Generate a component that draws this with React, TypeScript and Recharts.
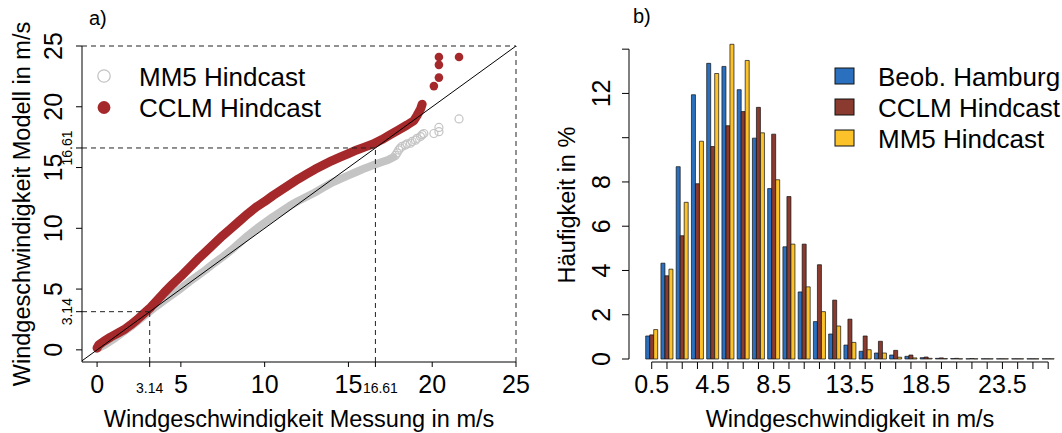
import React from "react";
import {
  ComposedChart,
  BarChart,
  Bar,
  Line,
  Scatter,
  XAxis,
  YAxis,
  ReferenceLine,
  Legend,
  Label,
} from "recharts";

const FONT = "'Liberation Sans', Arial, Helvetica, sans-serif";
const RED = "#a5282b";
const GREY = "#c4c4c4";
const BLUE = "#2b70be";
const BROWN = "#8a3a2e";
const YELLOW = "#fbc22a";

// a) Q-Q plot, Messung (x) gegen Modell (y) in m/s
const cclmBand = [
  [0.0, 0.15], [0.1, 0.4], [0.4, 0.7], [0.8, 1.05], [1.2, 1.35], [1.6, 1.65],
  [2.0, 2.05], [2.4, 2.5], [2.8, 3.0], [3.2, 3.5], [3.6, 4.1], [4.0, 4.7],
  [4.5, 5.4], [5.0, 6.05], [5.5, 6.75], [6.0, 7.45], [6.5, 8.1], [7.0, 8.75],
  [7.5, 9.4], [8.0, 10.0], [8.5, 10.6], [9.0, 11.2], [9.5, 11.75], [10.0, 12.2],
  [10.5, 12.7], [11.0, 13.15], [11.5, 13.6], [12.0, 14.05], [12.5, 14.45],
  [13.0, 14.85], [13.5, 15.2], [14.0, 15.55], [14.5, 15.85], [15.0, 16.15],
  [15.5, 16.45], [16.0, 16.7], [16.5, 16.95], [17.0, 17.3], [17.5, 17.7],
  [18.0, 18.1], [18.5, 18.5], [18.9, 18.85], [19.1, 19.3], [19.3, 19.8], [19.4, 20.2],
];
const cclmOutliers = [[20.1, 21.7], [20.4, 22.4], [20.4, 23.45], [20.4, 24.1], [21.6, 24.1]];

const mm5Band = [
  [0.0, 0.1], [0.5, 0.45], [1.0, 0.9], [1.5, 1.4], [2.0, 1.9], [2.5, 2.45],
  [3.0, 3.0], [3.5, 3.55], [4.0, 4.05], [4.5, 4.55], [5.0, 5.05], [5.5, 5.6],
  [6.0, 6.1], [6.5, 6.6], [7.0, 7.15], [7.5, 7.65], [8.0, 8.2], [8.5, 8.8],
  [9.0, 9.4], [9.5, 9.95], [10.0, 10.45], [10.5, 10.95], [11.0, 11.4], [11.5, 11.85],
  [12.0, 12.25], [12.5, 12.6], [13.0, 12.95], [13.5, 13.35], [14.0, 13.75],
  [14.5, 14.05], [15.0, 14.35], [15.5, 14.65], [16.0, 14.95], [16.5, 15.2],
  [17.0, 15.45], [17.4, 15.65], [17.7, 15.85],
];
const mm5Tail = [
  [17.8, 16.0], [17.9, 16.2], [18.0, 16.45], [18.1, 16.6], [18.2, 16.75], [18.4, 16.85],
  [18.5, 16.95], [18.7, 17.0], [18.8, 17.15], [19.0, 17.25], [19.1, 17.4], [19.3, 17.55],
  [19.4, 17.7], [19.5, 17.8], [20.1, 17.8], [20.4, 17.95], [20.4, 18.3], [21.6, 19.0],
];

const markers = [3.14, 16.61];
const qqTicks = [0, 3.14, 5, 10, 15, 16.61, 20, 25];

// b) Häufigkeit in %
const bins = [
  "0.5", "1.5", "2.5", "3.5", "4.5", "5.5", "6.5", "7.5", "8.5", "9.5",
  "10.5", "11.5", "12.5", "13.5", "14.5", "15.5", "16.5", "17.5", "18.5", "19.5",
  "20.5", "21.5", "22.5", "23.5", "24.5", "25.5", "26.5",
];
const binLabels = ["0.5", "4.5", "8.5", "13.5", "18.5", "23.5"];
const obsHamburg = [
  1.04, 4.33, 8.69, 11.94, 13.36, 13.22, 12.17, 9.98, 7.7, 5.07, 3.03, 1.69, 1.13, 0.63,
  0.35, 0.27, 0.18, 0.12, 0.06, 0.03, 0.02, 0.01, 0.01, 0.01, 0.01, 0.01, 0.01,
];
const cclmHist = [
  1.09, 3.76, 5.57, 7.92, 9.6, 10.54, 11.18, 11.37, 10.16, 7.34, 5.19, 4.26, 2.66, 1.8,
  1.04, 0.8, 0.39, 0.18, 0.09, 0.05, 0.03, 0.02, 0.01, 0.01, 0.01, 0.01, 0.01,
];
const mm5Hist = [
  1.33, 4.06, 7.08, 9.84, 12.9, 14.22, 13.49, 10.22, 8.1, 5.19, 3.26, 2.14, 1.49, 0.75,
  0.42, 0.27, 0.08, 0.05, 0.03, 0.02, 0.01, 0.01, 0.01, 0.01, 0.01, 0.01, 0.01,
];
const histTicks = [0, 2, 4, 6, 8, 10, 12, 14];
const histTickLabels = [0, 2, 4, 6, 8, 12];

const toPts = (arr: number[][]) => arr.map(([x, y]) => ({ x, y }));
const histData = bins.map((bin, i) => ({
  bin,
  obs: obsHamburg[i],
  cclm: cclmHist[i],
  mm5: mm5Hist[i],
}));

// layout of panel b
const B_W = 522;
const B_TOP = 38.1;
const B_BOTTOM = 359;
const B_YMAX = 14.5;
const B_RIGHT = 6.2;
const B_YAXIS_W = 89;
const B_PAD = 15.1;
const B_BAND = (B_W - B_RIGHT - B_YAXIS_W - B_PAD) / bins.length;
const B_STEP = ((B_BOTTOM - B_TOP) / B_YMAX) * 2;

const txt = { fontFamily: FONT, fill: "#000" };

function QqXTick(props: any) {
  const { x, y, payload } = props;
  const small = markers.includes(payload.value);
  // the 16.61 label sits right next to "15", nudge it a bit
  const lx = small && payload.value > 10 ? x + 5 : x;
  return (
    <g>
      <line x1={x} x2={x} y1={y} y2={y + 5} stroke="#000" />
      <text x={lx} y={y + 31} textAnchor="middle" fontSize={small ? 14 : 25} {...txt}>
        {payload.value}
      </text>
    </g>
  );
}

function QqYTick(props: any) {
  const { x, y, payload } = props;
  const small = markers.includes(payload.value);
  const bx = small ? x - 10 : x - 20;
  return (
    <g>
      <line x1={x - 6} x2={x} y1={y} y2={y} stroke="#000" />
      <text
        transform={`translate(${bx},${y}) rotate(-90)`}
        textAnchor="middle"
        fontSize={small ? 14 : 25}
        {...txt}
      >
        {payload.value}
      </text>
    </g>
  );
}

function HistXTick(props: any) {
  const { x, y, payload, index } = props;
  const ay = y + 3;
  return (
    <g>
      {index < bins.length - 1 && (
        <line x1={x} x2={x + B_BAND} y1={ay} y2={ay} stroke="#000" />
      )}
      <line x1={x} x2={x} y1={ay} y2={ay + 7} stroke="#000" />
      {binLabels.includes(payload.value) && (
        <text x={x} y={y + 34} textAnchor="middle" fontSize={25} {...txt}>
          {payload.value}
        </text>
      )}
    </g>
  );
}

function HistYTick(props: any) {
  const { x, y, payload, index } = props;
  return (
    <g>
      {index < histTicks.length - 1 && (
        <line x1={x} x2={x} y1={y} y2={y - B_STEP} stroke="#000" />
      )}
      <line x1={x - 7} x2={x} y1={y} y2={y} stroke="#000" />
      {histTickLabels.includes(payload.value) && (
        <text
          transform={`translate(${x - 19},${y}) rotate(-90)`}
          textAnchor="middle"
          fontSize={25}
          {...txt}
        >
          {payload.value}
        </text>
      )}
    </g>
  );
}

const OpenDot = (p: any) => (
  <circle cx={p.cx} cy={p.cy} r={4} fill="none" stroke={GREY} strokeWidth={1.2} />
);
const RedDot = (p: any) => <circle cx={p.cx} cy={p.cy} r={4.3} fill={RED} />;

const dashed = { stroke: "#222", strokeDasharray: "5 4", strokeWidth: 1 };

function LegendA() {
  return (
    <svg width={540} height={140} style={{ display: "block" }}>
      <circle cx={104} cy={76} r={6.2} fill="none" stroke={GREY} strokeWidth={1.3} />
      <text x={139} y={86} fontSize={26} {...txt}>MM5 Hindcast</text>
      <circle cx={104} cy={107.5} r={6.4} fill={RED} />
      <text x={139} y={117} fontSize={26} {...txt}>CCLM Hindcast</text>
    </svg>
  );
}

function LegendB() {
  const rows = [
    { name: "Beob. Hamburg", color: BLUE, y: 68 },
    { name: "CCLM Hindcast", color: BROWN, y: 99 },
    { name: "MM5 Hindcast", color: YELLOW, y: 130 },
  ];
  return (
    <svg width={B_W} height={170} style={{ display: "block" }}>
      {rows.map((r) => (
        <g key={r.name}>
          <rect x={295} y={r.y} width={19} height={16} fill={r.color} stroke="#111" strokeWidth={1} />
          <text x={338} y={r.y + 18} fontSize={26} {...txt}>{r.name}</text>
        </g>
      ))}
    </svg>
  );
}

export default function App() {
  return (
    <div
      style={{
        position: "absolute",
        left: 0,
        top: 0,
        width: 1062,
        height: 433,
        background: "#fff",
        fontFamily: FONT,
        overflow: "hidden",
      }}
    >
      <div style={{ position: "absolute", left: 0, top: 0 }}>
        <ComposedChart width={540} height={433} margin={{ top: 46, right: 24, bottom: 0, left: 0 }}>
          <XAxis
            type="number"
            dataKey="x"
            domain={[-0.9, 25]}
            allowDataOverflow
            ticks={qqTicks}
            interval={0}
            height={71}
            tickSize={0}
            tickMargin={0}
            tickLine={false}
            axisLine={{ stroke: "#000" }}
            tick={<QqXTick />}
          >
            <Label
              content={() => (
                <text x={299} y={427} textAnchor="middle" fontSize={23.5} {...txt}>
                  Windgeschwindigkeit Messung in m/s
                </text>
              )}
            />
          </XAxis>
          <YAxis
            type="number"
            dataKey="y"
            domain={[-1, 25]}
            allowDataOverflow
            ticks={qqTicks}
            interval={0}
            width={82}
            tickSize={0}
            tickMargin={0}
            tickLine={false}
            axisLine={{ stroke: "#000" }}
            tick={<QqYTick />}
          >
            <Label
              content={() => (
                <g>
                  <text
                    transform="translate(29.5,204) rotate(-90)"
                    textAnchor="middle"
                    fontSize={23.5}
                    {...txt}
                  >
                    Windgeschwindigkeit Modell in m/s
                  </text>
                  <text x={89} y={25} fontSize={20} {...txt}>a)</text>
                </g>
              )}
            />
          </YAxis>
          <Line
            data={toPts(mm5Band)}
            dataKey="y"
            stroke={GREY}
            strokeWidth={8}
            strokeLinecap="round"
            strokeLinejoin="round"
            dot={false}
            activeDot={false}
            isAnimationActive={false}
          />
          <Scatter data={toPts(mm5Tail)} shape={OpenDot} isAnimationActive={false} />
          <Line
            data={toPts(cclmBand)}
            dataKey="y"
            stroke={RED}
            strokeWidth={9}
            strokeLinecap="round"
            strokeLinejoin="round"
            dot={false}
            activeDot={false}
            isAnimationActive={false}
          />
          <Scatter data={toPts(cclmOutliers)} shape={RedDot} isAnimationActive={false} />
          <ReferenceLine
            segment={[{ x: -0.9, y: -0.9 }, { x: 25, y: 25 }]}
            stroke="#000"
            strokeWidth={1}
          />
          <ReferenceLine y={25} {...dashed} />
          <ReferenceLine x={25} {...dashed} />
          {markers.map((m) => (
            <ReferenceLine key={`h${m}`} segment={[{ x: -0.9, y: m }, { x: m, y: m }]} {...dashed} />
          ))}
          {markers.map((m) => (
            <ReferenceLine key={`v${m}`} segment={[{ x: m, y: -1 }, { x: m, y: m }]} {...dashed} />
          ))}
          <Legend
            layout="vertical"
            align="center"
            verticalAlign="middle"
            wrapperStyle={{ left: 0, top: 0, width: 540 }}
            content={() => <LegendA />}
          />
        </ComposedChart>
      </div>

      <div style={{ position: "absolute", left: 540, top: 0 }}>
        <BarChart
          width={B_W}
          height={433}
          data={histData}
          margin={{ top: B_TOP, right: B_RIGHT, bottom: 0, left: 0 }}
          barCategoryGap={1.6}
          barGap={0}
        >
          <XAxis
            dataKey="bin"
            type="category"
            padding={{ left: B_PAD, right: 0 }}
            interval={0}
            height={433 - B_BOTTOM}
            tickSize={0}
            tickMargin={0}
            tickLine={false}
            axisLine={false}
            tick={<HistXTick />}
          >
            <Label
              content={() => (
                <text x={310} y={427} textAnchor="middle" fontSize={23.5} {...txt}>
                  Windgeschwindigkeit in m/s
                </text>
              )}
            />
          </XAxis>
          <YAxis
            type="number"
            domain={[0, B_YMAX]}
            ticks={histTicks}
            interval={0}
            width={B_YAXIS_W}
            tickSize={0}
            tickMargin={0}
            tickLine={false}
            axisLine={false}
            tick={<HistYTick />}
          >
            <Label
              content={() => (
                <g>
                  <text
                    transform="translate(34.5,205) rotate(-90)"
                    textAnchor="middle"
                    fontSize={23.5}
                    {...txt}
                  >
                    Häufigkeit in %
                  </text>
                  <text x={93} y={23} fontSize={20} {...txt}>b)</text>
                </g>
              )}
            />
          </YAxis>
          <Bar dataKey="obs" fill={BLUE} stroke="#111" strokeWidth={0.7} isAnimationActive={false} />
          <Bar dataKey="cclm" fill={BROWN} stroke="#111" strokeWidth={0.7} isAnimationActive={false} />
          <Bar dataKey="mm5" fill={YELLOW} stroke="#111" strokeWidth={0.7} isAnimationActive={false} />
          <Legend
            layout="vertical"
            align="center"
            verticalAlign="middle"
            wrapperStyle={{ left: 0, top: 0, width: B_W }}
            content={() => <LegendB />}
          />
        </BarChart>
      </div>
    </div>
  );
}
